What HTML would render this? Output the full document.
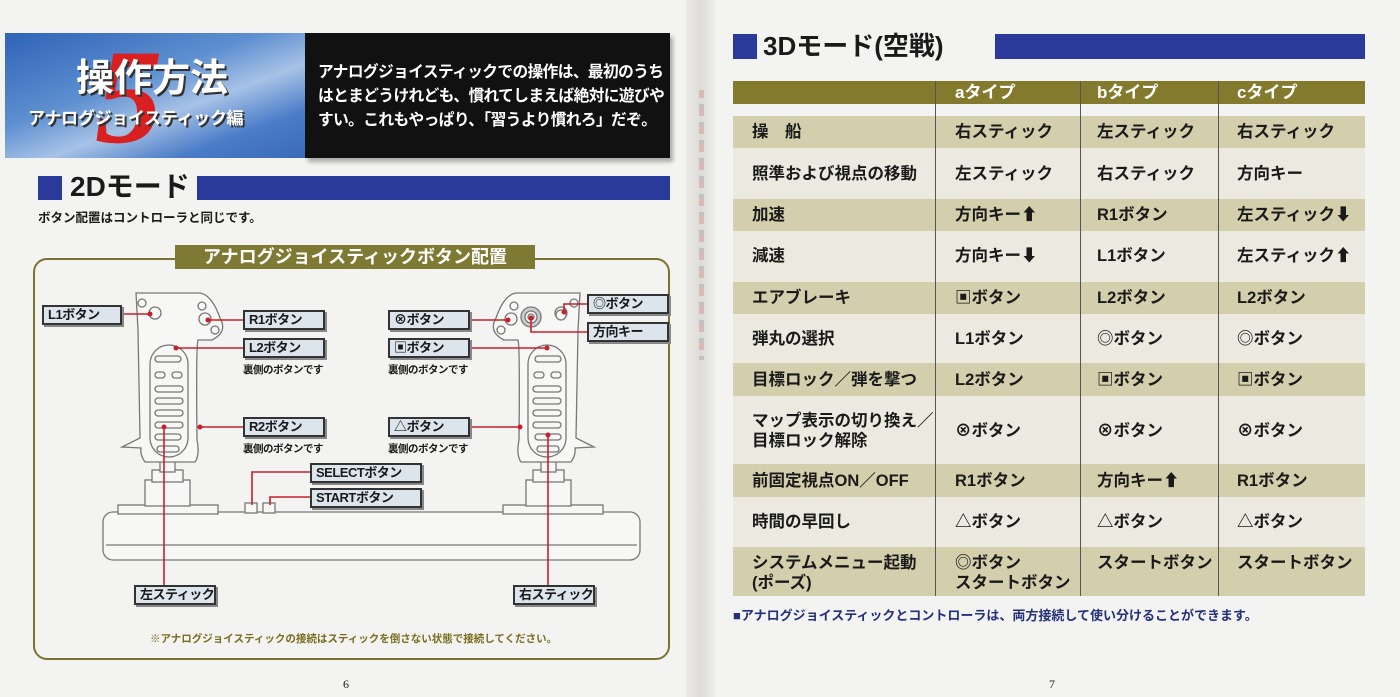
<!DOCTYPE html>
<html><head><meta charset="utf-8">
<style>
*{margin:0;padding:0;box-sizing:border-box}
body{width:1400px;height:697px;overflow:hidden;background:#f3f3f1;font-family:"Liberation Sans","Noto Sans CJK JP",sans-serif;font-weight:bold;color:#1a1a1a;position:relative}
.a{position:absolute;white-space:nowrap}
.lb{position:absolute;background:#dce5ec;border:2px solid #333;font-size:13px;line-height:16px;padding-left:4px;white-space:nowrap;box-shadow:2px 2px 0 #888;overflow:hidden;letter-spacing:-0.5px}
.sub{position:absolute;font-size:10.5px;white-space:nowrap;letter-spacing:-0.5px}
.c div{position:absolute;white-space:nowrap}
</style></head><body>
<!-- spine -->
<div class="a" style="left:686px;top:0;width:30px;height:697px;background:linear-gradient(90deg,#eceae6,#dedcd8 50%,#efeeec)"></div>
<div class="a" style="left:699px;top:90px;width:5px;height:270px;background:repeating-linear-gradient(180deg,#c77 0 8px,#ddd 8px 14px,#889 14px 18px);opacity:.35"></div>

<!-- header left -->
<div class="a" style="left:5px;top:33px;width:300px;height:125px;background:linear-gradient(160deg,#2f63b8 0%,#5d8fd0 40%,#a7c2e6 60%,#4a7cc8 80%,#3a6ab8 100%)"></div>
<div class="a" style="left:95px;top:30px;font-size:135px;color:#d92020;font-style:italic;line-height:135px;font-family:'Liberation Serif',serif">5</div>
<div class="a" style="left:76px;top:56px;font-size:38px;color:#fff;text-shadow:2px 2px 0 #333;line-height:46px">操作方法</div>
<div class="a" style="left:28px;top:104px;font-size:17px;color:#fff;text-shadow:2px 2px 0 #333;letter-spacing:-0.3px">アナログジョイスティック編</div>
<div class="a" style="left:305px;top:33px;width:365px;height:125px;background:#111;box-shadow:3px 4px 4px #aaa"></div>
<div class="a" style="left:318px;top:61px;font-size:16px;color:#fff;line-height:24px;letter-spacing:-0.6px;transform:scaleX(0.98);transform-origin:left top">アナログジョイスティックでの操作は、最初のうち<br>はとまどうけれども、慣れてしまえば絶対に遊びや<br>すい。これもやっぱり、「習うより慣れろ」だぞ。</div>

<!-- 2D heading -->
<div class="a" style="left:38px;top:176px;width:24px;height:24px;background:#2a3a9a"></div>
<div class="a" style="left:70px;top:170px;font-size:28px;line-height:34px">2Dモード</div>
<div class="a" style="left:197px;top:176px;width:473px;height:24px;background:#2a3a9a"></div>
<div class="a" style="left:38px;top:207px;font-size:12.5px">ボタン配置はコントローラと同じです。</div>

<!-- diagram box -->
<div class="a" style="left:33px;top:258px;width:637px;height:402px;border:2px solid #7d7330;border-radius:14px"></div>
<div class="a" style="left:175px;top:245px;width:360px;height:24px;background:#7f7a33;color:#fff;font-size:18px;text-align:center;line-height:24px">アナログジョイスティックボタン配置</div>

<svg class="a" style="left:0;top:0" width="700" height="697">
<g fill="#f7f7f5" stroke="#777" stroke-width="1.3">
<rect x="103" y="512" width="537" height="48" rx="10"/>
<line x1="106" y1="545" x2="637" y2="545"/>
<rect x="118" y="505" width="100" height="9"/>
<rect x="503" y="505" width="100" height="9"/>
<g id="g1">
<rect x="145" y="480" width="45" height="26"/>
<rect x="152" y="470" width="31" height="12"/>
<rect x="160" y="458" width="15" height="14"/>
<path d="M136,293 L200,293 Q212,295 220,318 Q228,332 212,340 L198,340 Q196,345 197,440 Q200,455 195,462 L145,462 Q140,455 141,448 L122,447 L140,438 L138,330 Z"/>
<rect x="150" y="345" width="38" height="112" rx="19"/>
<g fill="none"><rect x="155" y="356" width="26" height="6" rx="3"/><rect x="155" y="372" width="10" height="6" rx="3"/><rect x="172" y="372" width="10" height="6" rx="3"/>
<rect x="155" y="386" width="28" height="6" rx="3"/><rect x="155" y="398" width="28" height="6" rx="3"/><rect x="155" y="410" width="28" height="6" rx="3"/><rect x="155" y="422" width="28" height="6" rx="3"/><rect x="155" y="434" width="26" height="6" rx="3"/><rect x="157" y="446" width="22" height="6" rx="3"/></g>
<circle cx="142" cy="303" r="4"/><circle cx="202" cy="306" r="4"/><circle cx="215" cy="330" r="4"/><circle cx="155" cy="313" r="6"/><circle cx="205" cy="319" r="6"/>
</g>
<use href="#g1" transform="translate(716,0) scale(-1,1)"/>
<circle cx="531" cy="317" r="10" fill="#ccc"/><circle cx="531" cy="317" r="6"/><circle cx="531" cy="317" r="3"/>
<circle cx="561" cy="315" r="5"/>
<rect x="245" y="503" width="12" height="10"/><rect x="263" y="503" width="12" height="10"/>
</g>
<g stroke="#c8202a" stroke-width="1.6" fill="none">
<path d="M122,314 H150"/><path d="M208,320 H243"/><path d="M176,348 H243"/><path d="M200,427 H243"/>
<path d="M470,320 H508"/><path d="M470,348 H547"/><path d="M470,427 H520"/>
<path d="M587,304 H564 V312"/><path d="M587,332 H531 V318"/>
<path d="M310,472 H252 V505"/><path d="M310,497 H270 V505"/>
<path d="M164,427 V585"/><path d="M548,435 V585"/>
</g>
<g fill="#c8202a"><circle cx="150" cy="314" r="2.5"/><circle cx="208" cy="320" r="2.5"/><circle cx="176" cy="348" r="2.5"/><circle cx="164" cy="427" r="2.5"/><circle cx="200" cy="427" r="2.5"/><circle cx="508" cy="320" r="2.5"/><circle cx="547" cy="348" r="2.5"/><circle cx="520" cy="427" r="2.5"/><circle cx="548" cy="435" r="2.5"/><circle cx="531" cy="318" r="2.5"/><circle cx="564" cy="312" r="2.5"/></g>
</svg>

<div class="lb" style="left:42px;top:305px;width:80px">L1ボタン</div>
<div class="lb" style="left:243px;top:310px;width:82px">R1ボタン</div>
<div class="lb" style="left:243px;top:338px;width:82px">L2ボタン</div>
<div class="sub" style="left:243px;top:362px">裏側のボタンです</div>
<div class="lb" style="left:243px;top:417px;width:82px">R2ボタン</div>
<div class="sub" style="left:243px;top:441px">裏側のボタンです</div>
<div class="lb" style="left:388px;top:310px;width:82px">⊗ボタン</div>
<div class="lb" style="left:388px;top:338px;width:82px">▣ボタン</div>
<div class="sub" style="left:388px;top:362px">裏側のボタンです</div>
<div class="lb" style="left:388px;top:417px;width:82px">△ボタン</div>
<div class="sub" style="left:388px;top:441px">裏側のボタンです</div>
<div class="lb" style="left:587px;top:294px;width:82px">◎ボタン</div>
<div class="lb" style="left:587px;top:322px;width:82px">方向キー</div>
<div class="lb" style="left:310px;top:463px;width:112px">SELECTボタン</div>
<div class="lb" style="left:310px;top:488px;width:112px">STARTボタン</div>
<div class="lb" style="left:134px;top:585px;width:82px">左スティック</div>
<div class="lb" style="left:513px;top:585px;width:82px">右スティック</div>
<div class="a" style="left:150px;top:631px;font-size:10.5px;color:#7a6d20">※アナログジョイスティックの接続はスティックを倒さない状態で接続してください。</div>
<div class="a" style="left:343px;top:677px;font-size:12px;font-weight:normal;font-family:'Liberation Serif',serif">6</div>

<!-- 3D heading -->
<div class="a" style="left:733px;top:34px;width:24px;height:25px;background:#2a3a9a"></div>
<div class="a" style="left:763px;top:29px;font-size:26px;line-height:34px">3Dモード(空戦)</div>
<div class="a" style="left:995px;top:34px;width:370px;height:25px;background:#2a3a9a"></div>

<div class="a" style="left:733px;top:81px;width:632px;height:23px;background:#847a2e"></div>
<div class="a" style="left:733px;top:104px;width:632px;height:492px;background:#ebe9e0"></div>
<div class="a" style="left:733px;top:104px;width:632px;height:12px;background:#f3f3f1"></div>
<div class="a" style="left:733px;top:116px;width:632px;height:32px;background:#d3ceab"></div>
<div class="a" style="left:733px;top:199px;width:632px;height:32px;background:#d3ceab"></div>
<div class="a" style="left:733px;top:282px;width:632px;height:32px;background:#d3ceab"></div>
<div class="a" style="left:733px;top:363px;width:632px;height:33px;background:#d3ceab"></div>
<div class="a" style="left:733px;top:464px;width:632px;height:33px;background:#d3ceab"></div>
<div class="a" style="left:733px;top:547px;width:632px;height:49px;background:#d3ceab"></div>
<div class="a" style="left:935px;top:81px;width:1px;height:515px;background:#555"></div>
<div class="a" style="left:1080px;top:81px;width:1px;height:515px;background:#555"></div>
<div class="a" style="left:1218px;top:81px;width:1px;height:515px;background:#555"></div>

<div class="a" style="left:955px;top:81px;font-size:17px;color:#fff;line-height:23px">aタイプ</div>
<div class="a" style="left:1097px;top:81px;font-size:17px;color:#fff;line-height:23px">bタイプ</div>
<div class="a" style="left:1237px;top:81px;font-size:17px;color:#fff;line-height:23px">cタイプ</div>

<div class="a c" style="left:752px;top:0;font-size:16.5px;line-height:20px">
<div style="top:122px">操　船</div>
<div style="top:164px">照準および視点の移動</div>
<div style="top:205px">加速</div>
<div style="top:246px">減速</div>
<div style="top:288px">エアブレーキ</div>
<div style="top:329px">弾丸の選択</div>
<div style="top:370px">目標ロック／弾を撃つ</div>
<div style="top:411px">マップ表示の切り換え／<br>目標ロック解除</div>
<div style="top:471px">前固定視点ON／OFF</div>
<div style="top:512px">時間の早回し</div>
<div style="top:553px">システムメニュー起動<br>(ポーズ)</div>
</div>
<div class="a c" style="left:955px;top:0;font-size:16.5px;line-height:20px">
<div style="top:122px">右スティック</div><div style="top:164px">左スティック</div><div style="top:205px">方向キー⬆</div><div style="top:246px">方向キー⬇</div><div style="top:288px">▣ボタン</div><div style="top:329px">L1ボタン</div><div style="top:370px">L2ボタン</div><div style="top:421px">⊗ボタン</div><div style="top:471px">R1ボタン</div><div style="top:512px">△ボタン</div><div style="top:553px">◎ボタン<br>スタートボタン</div>
</div>
<div class="a c" style="left:1097px;top:0;font-size:16.5px;line-height:20px">
<div style="top:122px">左スティック</div><div style="top:164px">右スティック</div><div style="top:205px">R1ボタン</div><div style="top:246px">L1ボタン</div><div style="top:288px">L2ボタン</div><div style="top:329px">◎ボタン</div><div style="top:370px">▣ボタン</div><div style="top:421px">⊗ボタン</div><div style="top:471px">方向キー⬆</div><div style="top:512px">△ボタン</div><div style="top:553px">スタートボタン</div>
</div>
<div class="a c" style="left:1237px;top:0;font-size:16.5px;line-height:20px">
<div style="top:122px">右スティック</div><div style="top:164px">方向キー</div><div style="top:205px">左スティック⬇</div><div style="top:246px">左スティック⬆</div><div style="top:288px">L2ボタン</div><div style="top:329px">◎ボタン</div><div style="top:370px">▣ボタン</div><div style="top:421px">⊗ボタン</div><div style="top:471px">R1ボタン</div><div style="top:512px">△ボタン</div><div style="top:553px">スタートボタン</div>
</div>
<div class="a" style="left:733px;top:605px;font-size:13px;color:#23307a">■アナログジョイスティックとコントローラは、両方接続して使い分けることができます。</div>
<div class="a" style="left:1049px;top:677px;font-size:12px;font-weight:normal;font-family:'Liberation Serif',serif">7</div>
</body></html>
